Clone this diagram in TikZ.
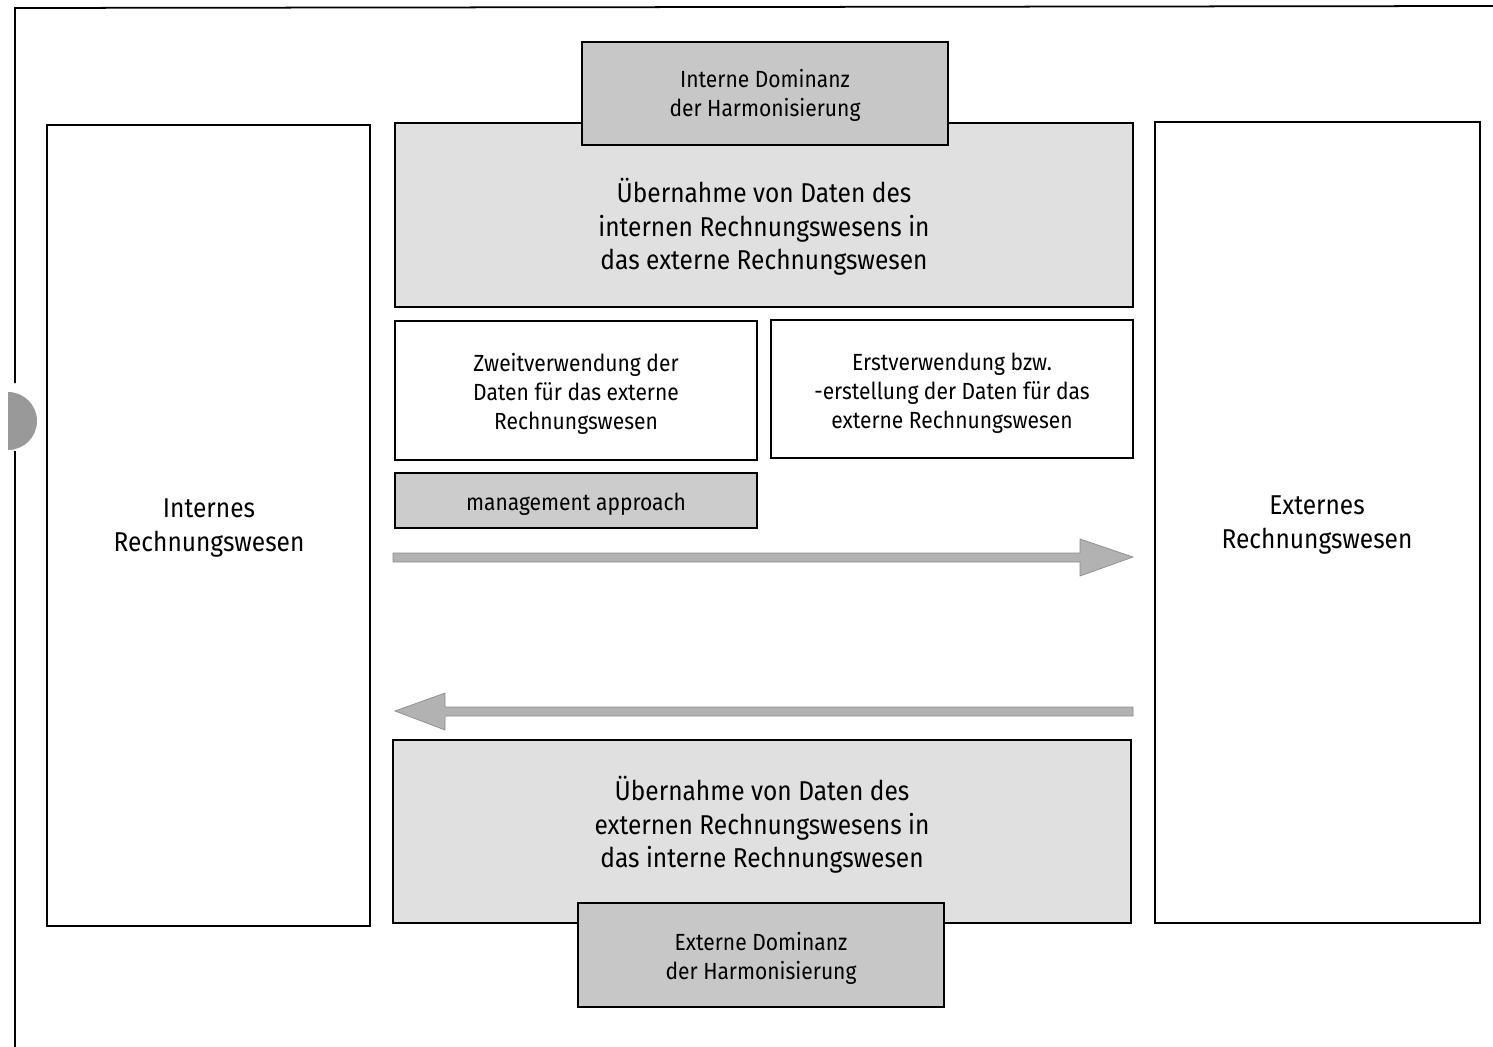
\documentclass[tikz,border=0pt]{standalone}
\usepackage{fontspec}
\setmainfont{Fira Sans}[FakeStretch=0.9]
\begin{document}
\begin{tikzpicture}[x=0.02cm,y=-0.02cm,
  box/.style={draw=black,line width=1.1pt,inner sep=0pt},
  lightbox/.style={box,fill=black!12},
  darkbox/.style={box,fill=black!22},
  bigtext/.style={font=\fontsize{15.5}{19}\selectfont,align=center},
  smalltext/.style={font=\fontsize{13.3}{16.5}\selectfont,align=center},
  flowarrow/.style={fill=black!30,draw=black!45,line width=0.4pt}]
\useasboundingbox (0,0) rectangle (1493,1047);

% outer frame with the tab on the left edge
\draw[line width=1pt] (15,383) -- (15,8) -- (1493,6);
\draw[line width=1pt] (15,451) -- (15,1047);
\fill[black!40] (8,450) arc[start angle=90,end angle=-90,radius=29] -- cycle;

% side blocks
\draw[box] (47,125) rectangle (370,926);
\node[bigtext] (intern) at (209,528) {Internes\\Rechnungswesen};
\draw[box] (1155,122) rectangle (1480,923);
\node[bigtext] (extern) at (1317,525) {Externes\\Rechnungswesen};

% upper transfer block
\draw[lightbox] (395,123) rectangle (1133,307);
\node[bigtext] (upper) at (764,227) {Übernahme von Daten des\\internen Rechnungswesens in\\das externe Rechnungswesen};
\draw[darkbox] (582,42) rectangle (948,145);
\node[smalltext] (domint) at (765,95) {Interne Dominanz\\der Harmonisierung};

% two usage cases
\draw[box,fill=white] (395,321) rectangle (757,460);
\node[smalltext] (zweit) at (576,394) {Zweitverwendung der\\Daten für das externe\\Rechnungswesen};
\draw[box,fill=white] (771,320) rectangle (1133,458);
\node[smalltext] (erst) at (952,393) {Erstverwendung bzw.\\-erstellung der Daten für das\\externe Rechnungswesen};

\draw[darkbox,fill=black!20] (395,473) rectangle (757,528);
\node[smalltext] (mgmt) at (576,504) {management approach};

% flow from internal to external
\coordinate (r0) at (393,557);
\coordinate (r1) at (1133,557);
\draw[flowarrow] (393,553) -- (1080,553) -- (1080,539) -- (r1) -- (1080,576) -- (1080,562) -- (393,562) -- cycle;

% flow from external to internal
\coordinate (l0) at (1133,711);
\coordinate (l1) at (395,711);
\draw[flowarrow] (1133,707) -- (445,707) -- (445,693) -- (l1) -- (445,730) -- (445,716) -- (1133,716) -- cycle;

% lower transfer block
\draw[lightbox] (393,740) rectangle (1131,923);
\node[bigtext] (lower) at (762,825) {Übernahme von Daten des\\externen Rechnungswesens in\\das interne Rechnungswesen};
\draw[darkbox] (578,903) rectangle (944,1007);
\node[smalltext] (domext) at (761,958) {Externe Dominanz\\der Harmonisierung};
\end{tikzpicture}
\end{document}
